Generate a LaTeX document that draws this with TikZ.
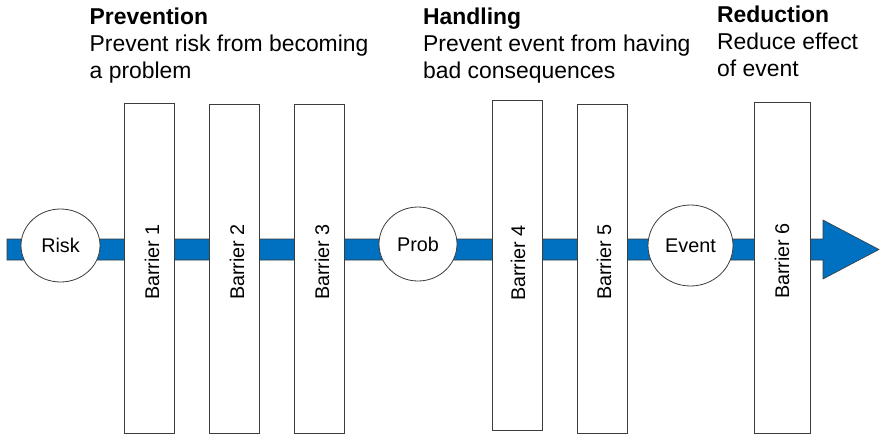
\documentclass[tikz,border=0pt]{standalone}
\usepackage{fontspec}
\setmainfont{Liberation Sans}
\usetikzlibrary{shapes.geometric}
\definecolor{flowblue}{RGB}{0,112,192}
\definecolor{edgegray}{RGB}{60,60,60}
\tikzset{
  barrier/.style={draw=edgegray, line width=0.9pt, fill=white, rectangle, minimum width=50pt, inner sep=0pt},
  bartext/.style={rotate=90, font=\fontsize{19.8pt}{22pt}\selectfont, inner sep=0pt},
  state/.style={draw=edgegray, line width=0.8pt, fill=white, ellipse, inner sep=0pt, font=\fontsize{19.8pt}{22pt}\selectfont},
  heading/.style={anchor=base west, align=left, inner sep=0pt, font=\fontsize{22.9pt}{27pt}\selectfont},
  flow/.style={draw=edgegray, line width=0.6pt, fill=flowblue}
}
\begin{document}
\begin{tikzpicture}[x=1pt, y=-1pt]
\useasboundingbox (0,0) rectangle (880,434);
% main flow arrow
\coordinate (start) at (7,249.5);
\coordinate (tip) at (879,249.5);
\draw[flow] (7,239) -- (823,239) -- (823,220) -- (tip) -- (823,279) -- (823,260) -- (7,260) -- cycle;
% barriers
\node[barrier, minimum height=330pt] (b1) at (149,268) {};
\node[barrier, minimum height=329pt] (b2) at (234,268.5) {};
\node[barrier, minimum height=329pt] (b3) at (319,268.5) {};
\node[barrier, minimum height=330pt] (b4) at (517,265) {};
\node[barrier, minimum height=329pt] (b5) at (602,268.5) {};
\node[barrier, minimum height=331pt, minimum width=56pt] (b6) at (782,267.5) {};
\node[bartext] (t1) at (152,262) {Barrier 1};
\node[bartext] (t2) at (237,262) {Barrier 2};
\node[bartext] (t3) at (322,262) {Barrier 3};
\node[bartext] (t4) at (518,263) {Barrier 4};
\node[bartext] (t5) at (604,262) {Barrier 5};
\node[bartext] (t6) at (782,261) {Barrier 6};
% states
\node[state, minimum width=79pt, minimum height=73pt] (risk) at (60.5,245.5) {Risk};
\node[state, minimum width=78pt, minimum height=74pt] (prob) at (418,244) {Prob};
\node[state, minimum width=85pt, minimum height=81pt] (event) at (690.5,245.5) {Event};
% headings (anchored at the baseline of the last line)
\node[heading] (prev) at (89.5,78) {\textbf{Prevention}\\Prevent risk from becoming\\a problem};
\node[heading] (hand) at (423,78) {\textbf{Handling}\\Prevent event from having\\bad consequences};
\node[heading] (redu) at (717,76) {\textbf{Reduction}\\Reduce effect\\of event};
\end{tikzpicture}
\end{document}
